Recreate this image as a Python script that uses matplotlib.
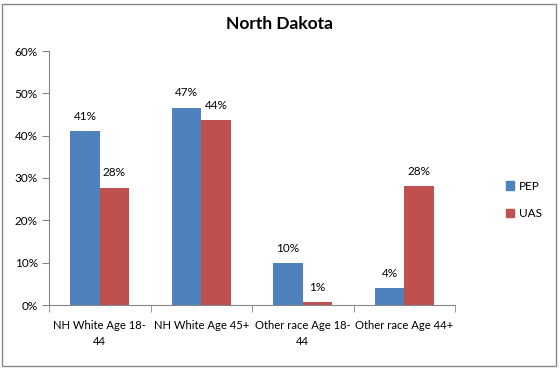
import matplotlib
matplotlib.use("Agg")
import matplotlib.pyplot as plt
from matplotlib.patches import Rectangle, Patch
import numpy as np

categories = ["NH White Age 18-\n44", "NH White Age 45+", "Other race Age 18-\n44", "Other race Age 44+"]
pep = [41.1, 46.6, 9.9, 4.0]
uas = [27.7, 43.7, 0.7, 28.1]
pep_labels = ["41%", "47%", "10%", "4%"]
uas_labels = ["28%", "44%", "1%", "28%"]
yticks = [0, 10, 20, 30, 40, 50, 60]

plt.rcParams['font.family'] = ['Lato', 'DejaVu Sans']
W, H = 560, 368
fig = plt.figure(figsize=(W/100, H/100), dpi=100)
ax = fig.add_axes([49/W, 1-305/H, (455-49)/W, (305-51)/H])

x = np.arange(len(categories))
bw = 0.29
blue = "#4F81BD"
red = "#C0504D"
b1 = ax.bar(x - bw/2, pep, bw, color=blue, label="PEP")
b2 = ax.bar(x + bw/2, uas, bw, color=red, label="UAS")
for rect, lab in zip(b1, pep_labels):
    ax.text(rect.get_x() + rect.get_width()/2, rect.get_height() + 2.2, lab,
            ha="center", va="bottom", fontsize=8.5)
for rect, lab in zip(b2, uas_labels):
    ax.text(rect.get_x() + rect.get_width()/2, rect.get_height() + 2.2, lab,
            ha="center", va="bottom", fontsize=8.5)

ax.set_xlim(-0.5, 3.5)
ax.set_ylim(0, 60)
ax.set_yticks(yticks)
ax.set_yticklabels([f"{t}%" for t in yticks], fontsize=8.5)
ax.set_xticks(x)
ax.set_xticklabels(categories, fontsize=8.1, linespacing=1.55)
ax.tick_params(axis="x", length=0, pad=11)
ax.set_xticks([-0.5, 0.5, 1.5, 2.5, 3.5], minor=True)
ax.tick_params(axis="x", which="minor", length=5, color="#868686")
ax.tick_params(axis="y", length=5, color="#868686", pad=3)
for s in ["top", "right"]:
    ax.spines[s].set_visible(False)
for s in ["left", "bottom"]:
    ax.spines[s].set_color("#868686")

fig.text(0.5, 1-24/H, "North Dakota", ha="center", va="center", fontsize=12.5, fontweight="bold")

handles = [Patch(color=blue), Patch(color=red)]
fig.legend(handles, ["PEP", "UAS"], loc="center left", bbox_to_anchor=(495/W, 1-200/H),
           frameon=False, fontsize=8.5, handlelength=0.7, handleheight=0.7,
           labelspacing=1.4, handletextpad=0.4)

fig.patches.append(Rectangle((2/W, 2/H), (W-6)/W, (H-6)/H, transform=fig.transFigure,
                             fill=False, edgecolor="#868686", linewidth=1))
fig.savefig("out.png", dpi=100)
